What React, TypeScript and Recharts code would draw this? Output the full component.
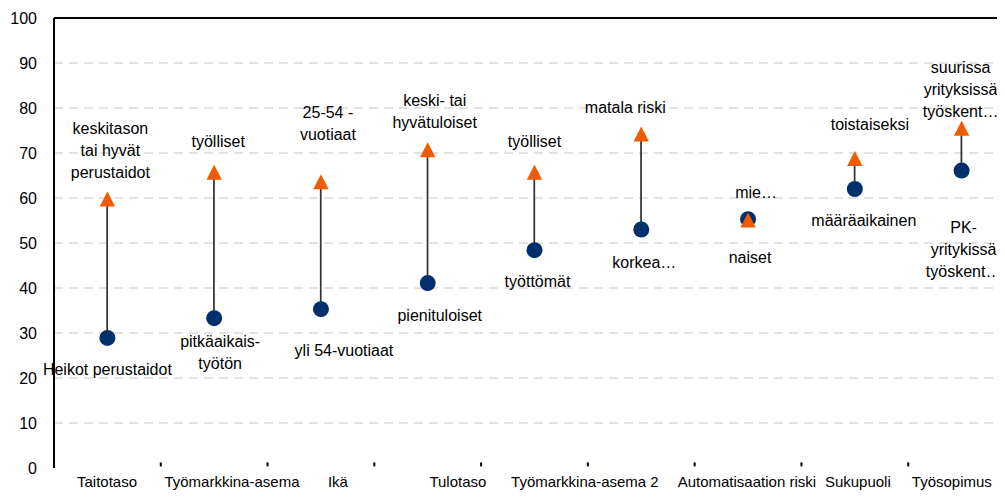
import {
  Bar,
  CartesianGrid,
  ComposedChart,
  LabelList,
  Line,
  ReferenceLine,
  XAxis,
  YAxis,
} from "recharts";

const CATEGORIES = [
  "Taitotaso",
  "Työmarkkina-asema",
  "Ikä",
  "Tulotaso",
  "Työmarkkina-asema 2",
  "Automatisaation riski",
  "Sukupuoli",
  "Työsopimus",
  "",
];

// triangle (upper) and circle (lower) values
const HIGH = [59.8, 65.7, 63.6, 70.7, 65.7, 74.2, 55.1, 68.8, 75.5];
const LOW = [28.9, 33.3, 35.3, 41.1, 48.4, 53.0, 55.3, 62.0, 66.1];

const HIGH_LABELS = [
  ["keskitason", "tai hyvät", "perustaidot"],
  ["työlliset"],
  ["25-54 -", "vuotiaat"],
  ["keski- tai", "hyvätuloiset"],
  ["työlliset"],
  ["matala riski"],
  ["mie…"],
  ["toistaiseksi"],
  ["suurissa", "yrityksissä", "työskent…"],
];
const LOW_LABELS = [
  ["Heikot perustaidot"],
  ["pitkäaikais-", "työtön"],
  ["yli 54-vuotiaat"],
  ["pienituloiset"],
  ["työttömät"],
  ["korkea…"],
  ["naiset"],
  ["määräaikainen"],
  ["PK-", "yritykissä", "työskent…"],
];

const Y_TICKS = [0, 10, 20, 30, 40, 50, 60, 70, 80, 90, 100];
const GRID_VALUES = [10, 20, 30, 40, 50, 60, 70, 80, 90];

// label placement (px, relative to the marker)
const HIGH_OFFSET = [
  [3, -26.5], [4, -31], [7, -47], [7, -27], [0, -31],
  [-16, -27], [8, -28], [15, -34], [-1, -16.6],
];
const LOW_OFFSET = [
  [0, 31.7], [6, 23.4], [23, 41], [12, 32], [3, 31],
  [3, 33], [2, 38], [9, 31], [2, 57],
];
const CAT_DX = [-0.4, 17.8, 17, 30.2, 50.4, 105.6, 109.8, 97, 0];
const LINE_H = 22;

const NAVY = "#00306C";
const ORANGE = "#F05A00";
const FONT = "'Liberation Sans', Arial, sans-serif";

const data = CATEGORIES.map((name, i) => ({
  name,
  hi: HIGH[i],
  lo: LOW[i],
}));

function DropLine(props: any) {
  const { x, y, width, height } = props;
  if (x == null || y == null) return null;
  const cx = x + width / 2;
  return (
    <line x1={cx} x2={cx} y1={y} y2={y + height} stroke="#333" strokeWidth={1.75} />
  );
}

function Circle(props: any) {
  const { cx, cy, index } = props;
  if (cx == null || cy == null) return <g key={`c${index}`} />;
  return <circle key={`c${index}`} cx={cx} cy={cy} r={8} fill={NAVY} />;
}

function Triangle(props: any) {
  const { cx, cy, index } = props;
  if (cx == null || cy == null) return <g key={`t${index}`} />;
  const pts = `${cx},${cy - 7.5} ${cx + 7.7},${cy + 7.5} ${cx - 7.7},${cy + 7.5}`;
  return <polygon key={`t${index}`} points={pts} fill={ORANGE} />;
}

function HighLabel(props: any) {
  const { x, y, index } = props;
  const lines = HIGH_LABELS[index] || [];
  const [dx, dy] = HIGH_OFFSET[index];
  const n = lines.length;
  return (
    <g>
      {lines.map((t, k) => (
        <text
          key={k}
          x={x + dx}
          y={y + dy - (n - 1 - k) * LINE_H}
          textAnchor="middle"
          dominantBaseline="central"
          fontSize={16}
          fontFamily={FONT}
          fill="#000"
        >
          {t}
        </text>
      ))}
    </g>
  );
}

function LowLabel(props: any) {
  const { x, y, index } = props;
  const lines = LOW_LABELS[index] || [];
  const [dx, dy] = LOW_OFFSET[index];
  return (
    <g>
      {lines.map((t, k) => (
        <text
          key={k}
          x={x + dx}
          y={y + dy + k * LINE_H}
          textAnchor="middle"
          dominantBaseline="central"
          fontSize={16}
          fontFamily={FONT}
          fill="#000"
        >
          {t}
        </text>
      ))}
    </g>
  );
}

function CategoryTick(props: any) {
  const { x, y, index, payload, width, visibleTicksCount } = props;
  const band = (width ?? 961) / (visibleTicksCount ?? CATEGORIES.length);
  const mx = x + band / 2;
  return (
    <g>
      {index < CATEGORIES.length - 1 && (
        <line x1={mx} x2={mx} y1={y - 5.6} y2={y - 1.6} stroke="#000" strokeWidth={2} />
      )}
      <text
        x={x + (CAT_DX[index] ?? 0)}
        y={y + 13.7}
        textAnchor="middle"
        dominantBaseline="central"
        fontSize={15}
        fontFamily={FONT}
        fill="#000"
      >
        {payload.value}
      </text>
    </g>
  );
}

export default function App() {
  return (
    <div style={{ width: 997, height: 482, overflow: "hidden" }}>
      <ComposedChart
        width={1010}
        height={490}
        data={data}
        margin={{ top: 10, right: 3, bottom: 0, left: 0 }}
      >
        <CartesianGrid
          vertical={false}
          horizontalValues={GRID_VALUES}
          stroke="#D9D9D9"
          strokeWidth={1.5}
          strokeDasharray="9 6"
        />
        <ReferenceLine y={100} stroke="#000" strokeWidth={2} />
        <XAxis
          dataKey="name"
          interval={0}
          height={30}
          axisLine={false}
          tickLine={false}
          tickSize={0}
          tickMargin={0}
          tick={<CategoryTick />}
        />
        <YAxis
          width={46}
          domain={[0, 100]}
          ticks={Y_TICKS}
          interval={0}
          axisLine={{ stroke: "#000", strokeWidth: 2 }}
          tickLine={false}
          tickSize={0}
          tickMargin={17}
          tick={{ fill: "#000", fontSize: 16, fontFamily: FONT }}
        />
        <Bar
          dataKey={(d: any) => [d.lo, d.hi]}
          shape={<DropLine />}
          isAnimationActive={false}
        />
        <Line
          dataKey="lo"
          stroke="none"
          dot={Circle}
          activeDot={false}
          isAnimationActive={false}
        >
          <LabelList dataKey="lo" content={<LowLabel />} />
        </Line>
        <Line
          dataKey="hi"
          stroke="none"
          dot={Triangle}
          activeDot={false}
          isAnimationActive={false}
        >
          <LabelList dataKey="hi" content={<HighLabel />} />
        </Line>
      </ComposedChart>
    </div>
  );
}
